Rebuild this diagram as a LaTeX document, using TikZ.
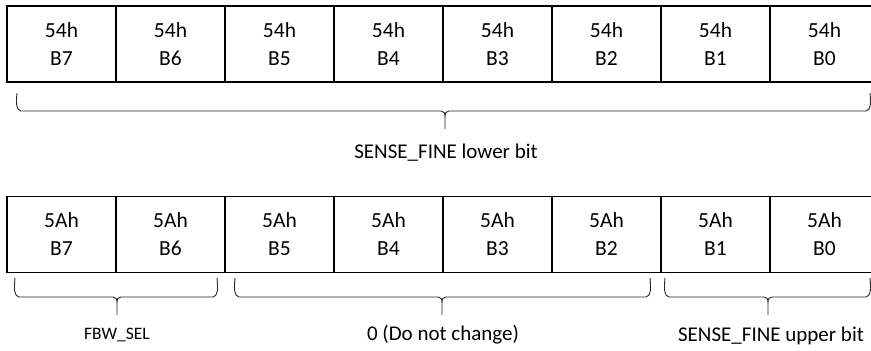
\documentclass[tikz,border=0pt]{standalone}
\usepackage{fontspec}
\setmainfont{Carlito}
% horizontal curly brace: #1 left x, #2 right x, #3 tip x, #4 end y, #5 bar y, #6 tip y
\newcommand\hbrace[6]{%
  \draw[bracestyle] (#1,#4) .. controls (#1-1,#5-8) and (#1-1,#5-1) .. (#1+4,#5)
    -- (#3-4,#5) .. controls (#3-1,#5) and (#3,#5+2) .. (#3,#5+6) -- (#3,#6)
    (#3,#5+6) .. controls (#3,#5+2) and (#3+1,#5) .. (#3+4,#5)
    -- (#2-4,#5) .. controls (#2+1,#5-1) and (#2+1,#5-8) .. (#2,#4);}
\begin{document}
\begin{tikzpicture}[x=1pt,y=-1pt,
  cell/.style={draw=black, line width=1.3pt, minimum width=109pt, minimum height=76pt,
    inner sep=0pt, align=center, font=\fontsize{21.5}{28}\selectfont},
  bracestyle/.style={draw=black!85, line width=0.9pt},
  lbl/.style={anchor=base, inner sep=0pt, font=\fontsize{21}{25}\selectfont},
  smalllbl/.style={anchor=base, inner sep=0pt, font=\fontsize{17.5}{21}\selectfont}]
  \clip (0,0) rectangle (871,351);
  \fill[white] (0,0) rectangle (871,351);
  % register 54h
  \foreach \i in {0,...,7} {
    \pgfmathtruncatemacro\bit{7-\i}
    \node[cell] (t\i) at ({7+109*(\i+0.5)},44) {54h\\B\bit};
  }
  % register 5Ah
  \foreach \i in {0,...,7} {
    \pgfmathtruncatemacro\bit{7-\i}
    \node[cell] (b\i) at ({7+109*(\i+0.5)},234.5) {5Ah\\B\bit};
  }
  % field braces
  \hbrace{17}{870}{445}{93}{111}{129}
  \hbrace{15}{217}{117}{278}{297}{315}
  \hbrace{235}{650}{442}{278}{297}{315}
  \hbrace{665}{870}{768}{278}{297}{315}
  % field names
  \node[lbl] (lowlbl) at (446,158) {SENSE\_FINE lower bit};
  \node[smalllbl] (fbwlbl) at (117,339) {FBW\_SEL};
  \node[lbl] (keeplbl) at (443,340) {0 (Do not change)};
  \node[lbl] (uplbl) at (771,341) {SENSE\_FINE upper bit};
\end{tikzpicture}
\end{document}
